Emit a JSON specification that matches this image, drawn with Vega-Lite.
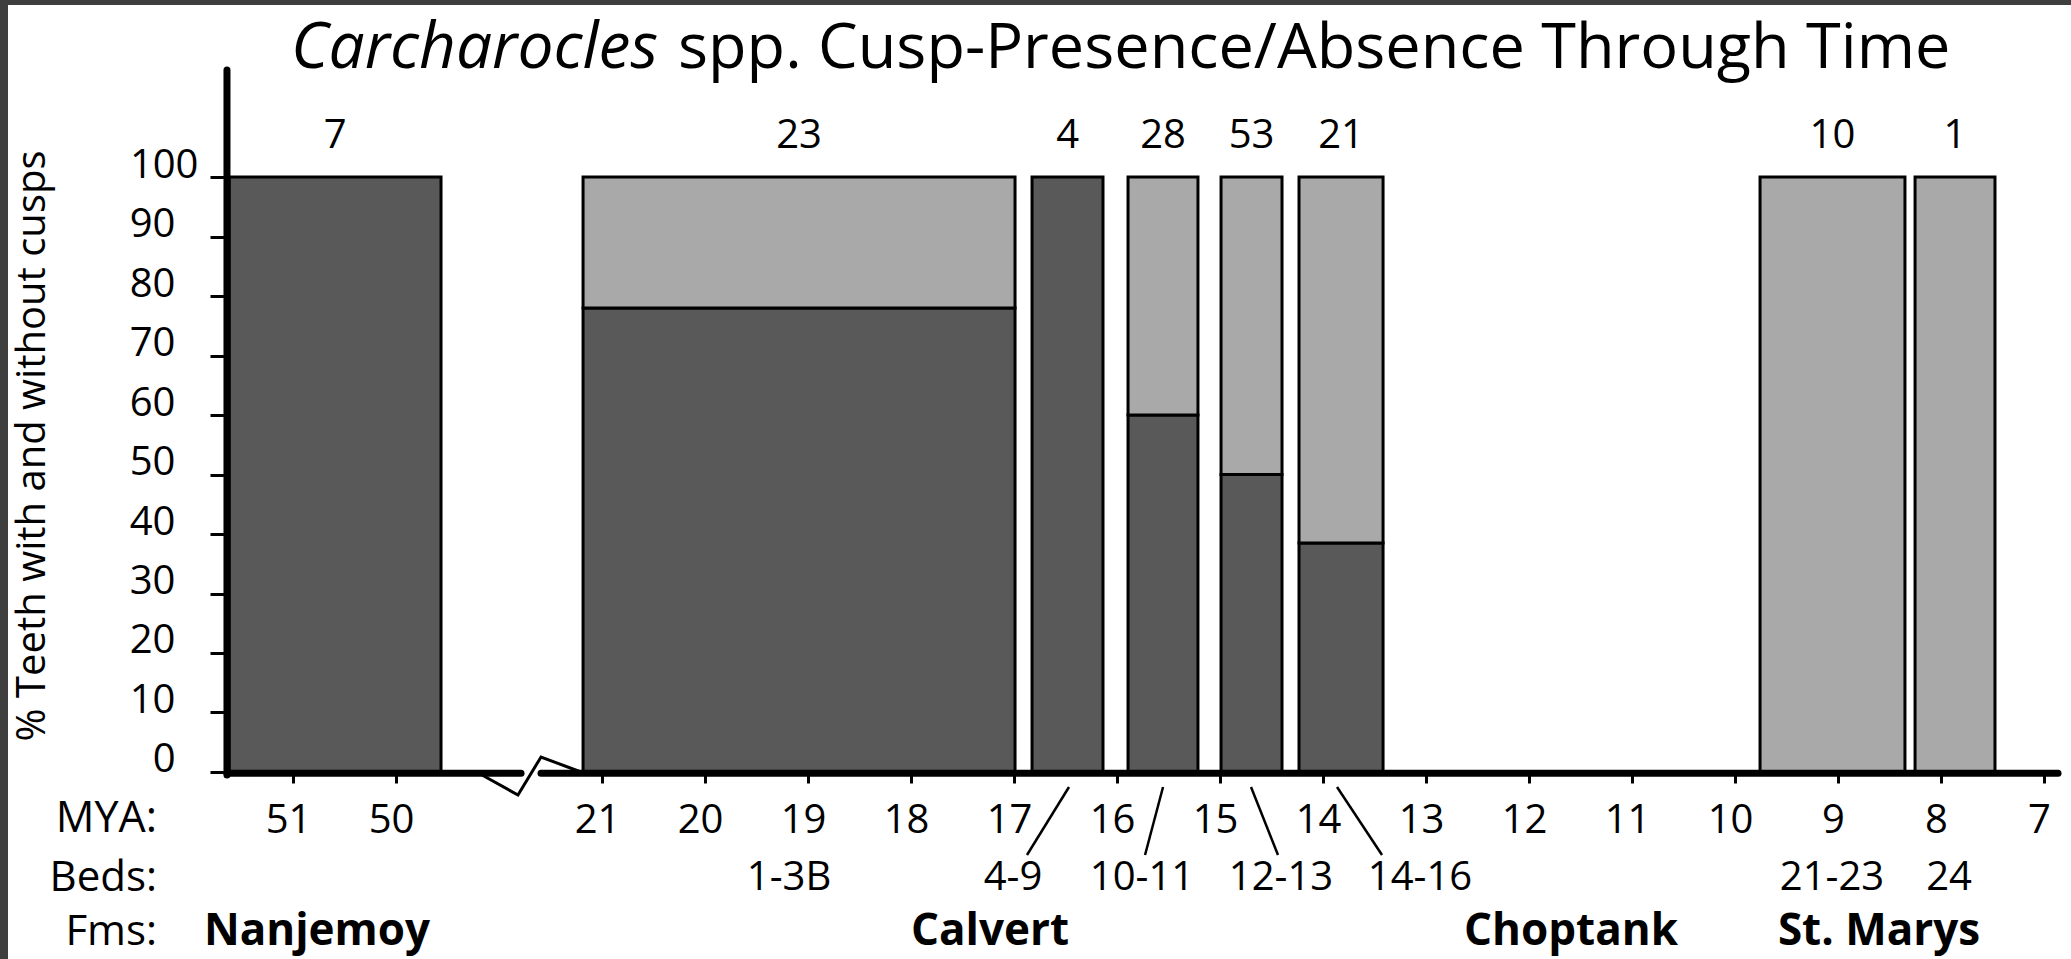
{
  "$schema": "https://vega.github.io/schema/vega-lite/v6.json",
  "width": 2063,
  "height": 954,
  "autosize": {"type": "none"},
  "padding": {"left": 8, "top": 5, "right": 0, "bottom": 0},
  "background": "#3f3f3f",
  "config": {
    "view": {"fill": "white", "stroke": null},
    "font": "Open Sans",
    "text": {"font": "Open Sans", "color": "black"}
  },
  "datasets": {
    "bars": [
      {"bed": "Nanjemoy", "start": 24.62, "end": 22.563, "lo": 0, "hi": 100, "cusps": "present"},
      {"bed": "1-3B", "start": 21.184, "end": 16.99, "lo": 0, "hi": 78, "cusps": "present"},
      {"bed": "1-3B", "start": 21.184, "end": 16.99, "lo": 78, "hi": 100, "cusps": "absent"},
      {"bed": "4-9", "start": 16.825, "end": 16.136, "lo": 0, "hi": 100, "cusps": "present"},
      {"bed": "10-11", "start": 15.893, "end": 15.214, "lo": 0, "hi": 60, "cusps": "present"},
      {"bed": "10-11", "start": 15.893, "end": 15.214, "lo": 60, "hi": 100, "cusps": "absent"},
      {"bed": "12-13", "start": 14.99, "end": 14.398, "lo": 0, "hi": 50, "cusps": "present"},
      {"bed": "12-13", "start": 14.99, "end": 14.398, "lo": 50, "hi": 100, "cusps": "absent"},
      {"bed": "14-16", "start": 14.233, "end": 13.417, "lo": 0, "hi": 38.5, "cusps": "present"},
      {"bed": "14-16", "start": 14.233, "end": 13.417, "lo": 38.5, "hi": 100, "cusps": "absent"},
      {"bed": "21-23", "start": 9.757, "end": 8.35, "lo": 0, "hi": 100, "cusps": "absent"},
      {"bed": "24", "start": 8.252, "end": 7.476, "lo": 0, "hi": 100, "cusps": "absent"}
    ],
    "counts": [
      {"mid": 23.59, "n": 7},
      {"mid": 19.087, "n": 23},
      {"mid": 16.48, "n": 4},
      {"mid": 15.553, "n": 28},
      {"mid": 14.694, "n": 53},
      {"mid": 13.825, "n": 21},
      {"mid": 9.054, "n": 10},
      {"mid": 7.864, "n": 1}
    ],
    "beds": [
      {"bed": "1-3B", "pos": 19.184},
      {"bed": "4-9", "pos": 17.01},
      {"bed": "10-11", "pos": 15.757},
      {"bed": "12-13", "pos": 14.408},
      {"bed": "14-16", "pos": 13.058},
      {"bed": "21-23", "pos": 9.058},
      {"bed": "24", "pos": 7.922}
    ],
    "fms": [
      {"fm": "Nanjemoy", "pos": 23.767},
      {"fm": "Calvert", "pos": 17.233},
      {"fm": "Choptank", "pos": 11.592},
      {"fm": "St. Marys", "pos": 8.602}
    ],
    "axisline": [
      {"from": 24.641, "to": 21.786},
      {"from": 21.592, "to": 6.864}
    ],
    "zigzag": [
      {"x": 22.165, "y": -0.5, "k": 1},
      {"x": 21.816, "y": -3.87, "k": 2},
      {"x": 21.592, "y": 2.52, "k": 3},
      {"x": 21.204, "y": 0, "k": 4}
    ],
    "connectors": [
      {"x1": 16.874, "y1": -13.95, "x2": 16.466, "y2": -2.52},
      {"x1": 15.728, "y1": -13.95, "x2": 15.553, "y2": -2.52},
      {"x1": 14.699, "y1": -2.52, "x2": 14.437, "y2": -13.95},
      {"x1": 13.864, "y1": -2.52, "x2": 13.427, "y2": -13.95}
    ]
  },
  "layer": [
    {
      "data": {"name": "bars"},
      "mark": {"type": "rect", "stroke": "black", "strokeWidth": 3},
      "encoding": {
        "x": {
          "field": "start", "type": "quantitative",
          "scale": {"domain": [6.738, 26.767], "reverse": true, "zero": false, "nice": false},
          "axis": {
            "orient": "bottom", "offset": -187, "zindex": 1,
            "values": [24, 23, 21, 20, 19, 18, 17, 16, 15, 14, 13, 12, 11, 10, 9, 8, 7],
            "labelExpr": "datum.value > 22 ? format(datum.value + 27, 'd') : format(datum.value, 'd')",
            "domain": false, "grid": false,
            "tickSize": 11, "tickWidth": 3, "tickColor": "black",
            "labelFont": "Open Sans", "labelFontSize": 40, "labelColor": "black",
            "labelPadding": 17, "labelOffset": -5,
            "labelOverlap": false, "labelFlush": false, "title": null
          }
        },
        "x2": {"field": "end"},
        "y": {
          "field": "lo", "type": "quantitative",
          "scale": {"domain": [-31.43, 128.91], "zero": false, "nice": false},
          "axis": {
            "orient": "left", "offset": -216, "zindex": 1,
            "values": [0, 10, 20, 30, 40, 50, 60, 70, 80, 90, 100],
            "domain": false, "grid": false,
            "tickSize": 14, "tickWidth": 3, "tickColor": "black",
            "labelFont": "Open Sans", "labelFontSize": 40, "labelColor": "black",
            "labelBaseline": "alphabetic", "labelAlign": "right",
            "labelPadding": {"condition": {"test": "datum.value === 100", "value": 12}, "value": 35},
            "labelOverlap": false, "labelFlush": false, "title": null
          }
        },
        "y2": {"field": "hi"},
        "fill": {
          "field": "cusps", "type": "nominal",
          "scale": {"domain": ["present", "absent"], "range": ["#595959", "#a9a9a9"]},
          "legend": null
        }
      }
    },
    {
      "data": {"name": "axisline"},
      "mark": {"type": "rule", "color": "black", "strokeWidth": 7, "strokeCap": "round"},
      "encoding": {
        "x": {"field": "from", "type": "quantitative"},
        "x2": {"field": "to"},
        "y": {"datum": -0.2}
      }
    },
    {
      "data": {"values": [{}]},
      "mark": {"type": "rule", "color": "black", "strokeWidth": 7, "strokeCap": "round"},
      "encoding": {
        "x": {"datum": 24.641},
        "y": {"datum": -0.5},
        "y2": {"datum": 118}
      }
    },
    {
      "data": {"name": "zigzag"},
      "mark": {"type": "line", "color": "black", "strokeWidth": 3},
      "encoding": {
        "x": {"field": "x", "type": "quantitative"},
        "y": {"field": "y", "type": "quantitative"},
        "order": {"field": "k"}
      }
    },
    {
      "data": {"name": "connectors"},
      "mark": {"type": "rule", "color": "black", "strokeWidth": 2.5},
      "encoding": {
        "x": {"field": "x1", "type": "quantitative"},
        "x2": {"field": "x2"},
        "y": {"field": "y1", "type": "quantitative"},
        "y2": {"field": "y2"}
      }
    },
    {
      "data": {"name": "counts"},
      "mark": {"type": "text", "fontSize": 40, "baseline": "middle", "align": "center"},
      "encoding": {
        "x": {"field": "mid", "type": "quantitative"},
        "y": {"datum": 106.9},
        "text": {"field": "n"}
      }
    },
    {
      "data": {"name": "beds"},
      "mark": {"type": "text", "fontSize": 40, "baseline": "middle", "align": "center"},
      "encoding": {
        "x": {"field": "pos", "type": "quantitative"},
        "y": {"datum": -17.8},
        "text": {"field": "bed"}
      }
    },
    {
      "data": {"name": "fms"},
      "mark": {"type": "text", "fontSize": 44, "fontWeight": "bold", "baseline": "middle", "align": "center"},
      "encoding": {
        "x": {"field": "pos", "type": "quantitative"},
        "y": {"datum": -26.9},
        "text": {"field": "fm"}
      }
    },
    {
      "data": {"values": [{}]},
      "mark": {"type": "text", "text": "MYA:", "fontSize": 43, "baseline": "middle", "align": "right"},
      "encoding": {"x": {"datum": 25.32}, "y": {"datum": -7.9}}
    },
    {
      "data": {"values": [{}]},
      "mark": {"type": "text", "text": "Beds:", "fontSize": 42, "baseline": "middle", "align": "right"},
      "encoding": {"x": {"datum": 25.32}, "y": {"datum": -17.8}}
    },
    {
      "data": {"values": [{}]},
      "mark": {"type": "text", "text": "Fms:", "fontSize": 42, "baseline": "middle", "align": "right"},
      "encoding": {"x": {"datum": 25.32}, "y": {"datum": -26.9}}
    },
    {
      "data": {"values": [{}]},
      "mark": {"type": "text", "text": "% Teeth with and without cusps", "fontSize": 40, "angle": 270, "baseline": "middle", "align": "center"},
      "encoding": {"x": {"datum": 26.524}, "y": {"datum": 54.8}}
    },
    {
      "data": {"values": [{}]},
      "mark": {"type": "text", "text": "Carcharocles", "fontSize": 64, "fontStyle": "italic", "baseline": "alphabetic", "align": "right"},
      "encoding": {"x": {"datum": 20.456}, "y": {"datum": 118.3}}
    },
    {
      "data": {"values": [{}]},
      "mark": {"type": "text", "text": "spp. Cusp-Presence/Absence Through Time", "fontSize": 63, "baseline": "alphabetic", "align": "left"},
      "encoding": {"x": {"datum": 20.262}, "y": {"datum": 118.3}}
    }
  ]
}
